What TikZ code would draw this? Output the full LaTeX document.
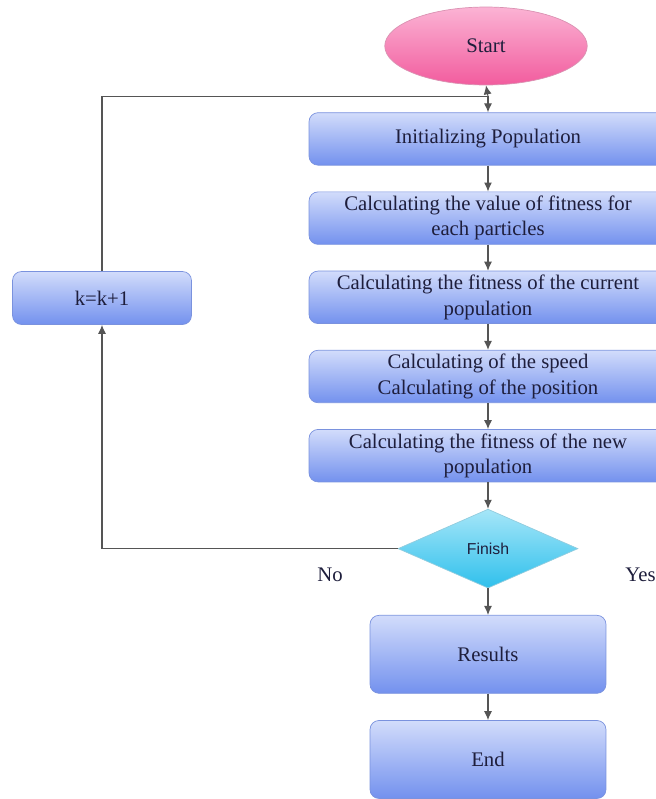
\documentclass[tikz,border=0pt]{standalone}
\usepackage{fontspec}
\setmainfont{Liberation Serif}
\newfontfamily\finishfont{Liberation Sans}
\usepackage{xcolor}
\usepackage{tikz}
\usetikzlibrary{arrows.meta,positioning,calc,shapes.geometric}
\definecolor{BoxTop}{HTML}{D2DCFB}
\definecolor{BoxMid}{HTML}{97ACF3}
\definecolor{BoxBottom}{HTML}{7391EE}
\definecolor{BoxEdge}{HTML}{7A92DE}
\definecolor{PinkTop}{HTML}{FBB3D4}
\definecolor{PinkBottom}{HTML}{F25C9E}
\definecolor{CyanTop}{HTML}{A6E6F8}
\definecolor{CyanBottom}{HTML}{2FC0EC}
\definecolor{Wire}{HTML}{555555}
\definecolor{Ink}{HTML}{1E1E3C}

\begin{document}
\begin{tikzpicture}[
  x=0.02cm,y=-0.02cm,
  node distance=5.2mm,
  every node/.style={font=\fontsize{11.8}{14.5}\selectfont,text=Ink},
  stage/.style={rounded corners=1.8mm,draw=BoxEdge,top color=BoxTop,middle color=BoxMid,bottom color=BoxBottom,minimum width=71.6mm,minimum height=10.5mm,align=center,inner sep=1pt},
  arr/.style={-{Latex[length=1.8mm,width=1.6mm]},semithick,Wire},
  line/.style={semithick,Wire}
]
\useasboundingbox (0,0) rectangle (656,799);
\node[ellipse,draw=PinkBottom!80!black!60,top color=PinkTop,bottom color=PinkBottom,minimum width=40.5mm,minimum height=15.6mm] (start) at (486,46) {Start};
\node[stage,below=5.4mm of start.south,anchor=north,xshift=0.4mm] (init) {Initializing Population};
\node[stage,below=of init] (fitval) {Calculating the value of fitness for\\each particles};
\node[stage,below=of fitval] (fitcur) {Calculating the fitness of the current\\population};
\node[stage,below=of fitcur] (speedpos) {Calculating of the speed\\Calculating of the position};
\node[stage,below=of speedpos] (fitnew) {Calculating the fitness of the new\\population};
\node[diamond,draw=CyanBottom!80!black!50,top color=CyanTop,bottom color=CyanBottom,minimum width=36mm,minimum height=15.8mm,inner sep=0pt,font=\finishfont\small,below=5.3mm of fitnew] (finish) {Finish};
\node[stage,minimum width=47.2mm,minimum height=15.6mm,below=5.3mm of finish] (results) {Results};
\node[stage,minimum width=47.2mm,minimum height=15.6mm,below=5.3mm of results] (stop) {End};
\node[stage,minimum width=35.8mm,minimum height=10.6mm] (kinc) at (102,298) {k=k+1};
\node (lblno) at (330,575) {No};
\node[anchor=east,inner sep=0pt] (lblyes) at (656,575) {Yes};
% connectors
\coordinate (jn) at ($(init.north)+(0,-16)$);
\draw[arr] (jn) -- (start.south);
\draw[arr] (jn) -- (init.north);
\draw[arr] (init) -- (fitval);
\draw[arr] (fitval) -- (fitcur);
\draw[arr] (fitcur) -- (speedpos);
\draw[arr] (speedpos) -- (fitnew);
\draw[arr] (fitnew) -- (finish);
\draw[arr] (finish) -- (results);
\draw[arr] (results) -- (stop);
\draw[arr] (finish.west) -| (kinc.south);
\draw[line] (kinc.north) |- (jn);
\end{tikzpicture}
\end{document}
